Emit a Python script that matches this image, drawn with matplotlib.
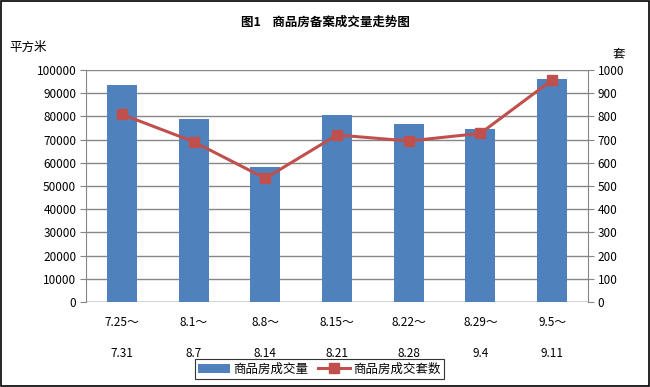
import numpy as np
import matplotlib
matplotlib.use("Agg")
import matplotlib.pyplot as plt
from matplotlib.patches import Rectangle

plt.rcParams['font.family'] = ['Noto Sans CJK SC', 'DejaVu Sans']

# weekly data
weeks = ['7.25～\n\n7.31', '8.1～\n\n8.7', '8.8～\n\n8.14', '8.15～\n\n8.21',
         '8.22～\n\n8.28', '8.29～\n\n9.4', '9.5～\n\n9.11']
area = [93500, 78900, 58200, 80600, 76700, 74600, 96100]   # 平方米
units = [809, 691, 533, 720, 694, 727, 957]                 # 套

fig = plt.figure(figsize=(6.5, 3.87), dpi=100)
fig.patches.append(Rectangle((0.002, 0.003), 0.996, 0.994, transform=fig.transFigure,
                             fill=False, edgecolor='black', linewidth=1.2))

ax = fig.add_axes([0.1323, 0.2196, 0.7723, 0.5995])
x = np.arange(len(weeks))
bars = ax.bar(x, area, width=0.42, color='#4f81bd', label='商品房成交量', zorder=2)
ax.set_xlim(-0.5, len(weeks) - 0.5)
ax.set_ylim(0, 100000)
ax.set_yticks(np.arange(0, 100001, 10000))
ax.yaxis.grid(True, color='#868686', linewidth=1, zorder=0)
ax.set_axisbelow(True)
for s in ['top', 'bottom']:
    ax.spines[s].set_visible(False)
ax.spines['left'].set_color('#868686')
ax.spines['right'].set_visible(False)
ax.axhline(0, color='#868686', linewidth=1, zorder=1)
ax.set_xticks(x)
ax.set_xticklabels(weeks, fontsize=8.5, linespacing=1.25)
ax.tick_params(axis='x', length=0, pad=10)
ax.tick_params(axis='y', labelsize=8.5, color='#868686', length=4, pad=3)

ax2 = ax.twinx()
line, = ax2.plot(x, units, color='#c0504d', linewidth=2.2, marker='s', markersize=7,
                 markerfacecolor='#c0504d', markeredgecolor='#c0504d', label='商品房成交套数')
ax2.set_ylim(0, 1000)
ax2.set_yticks(np.arange(0, 1001, 100))
for s in ['top', 'bottom', 'left']:
    ax2.spines[s].set_visible(False)
ax2.spines['right'].set_color('#868686')
ax2.tick_params(axis='y', labelsize=8.5, color='#868686', length=4, pad=3)

fig.text(0.5, 0.943, '图1    商品房备案成交量走势图', ha='center', va='center',
         fontsize=9, fontweight='bold')
fig.text(0.015, 0.878, '平方米', ha='left', va='center', fontsize=9)
fig.text(0.942, 0.86, '套', ha='left', va='center', fontsize=9)

leg = fig.legend([bars, line], ['商品房成交量', '商品房成交套数'], loc='center',
                 bbox_to_anchor=(0.4916, 0.0465), ncol=2, fontsize=9, frameon=True,
                 fancybox=False, edgecolor='black', borderpad=0.25, handlelength=2.5,
                 columnspacing=0.8, handletextpad=0.3)
leg.get_frame().set_linewidth(0.8)

fig.savefig('out.png', dpi=100)
